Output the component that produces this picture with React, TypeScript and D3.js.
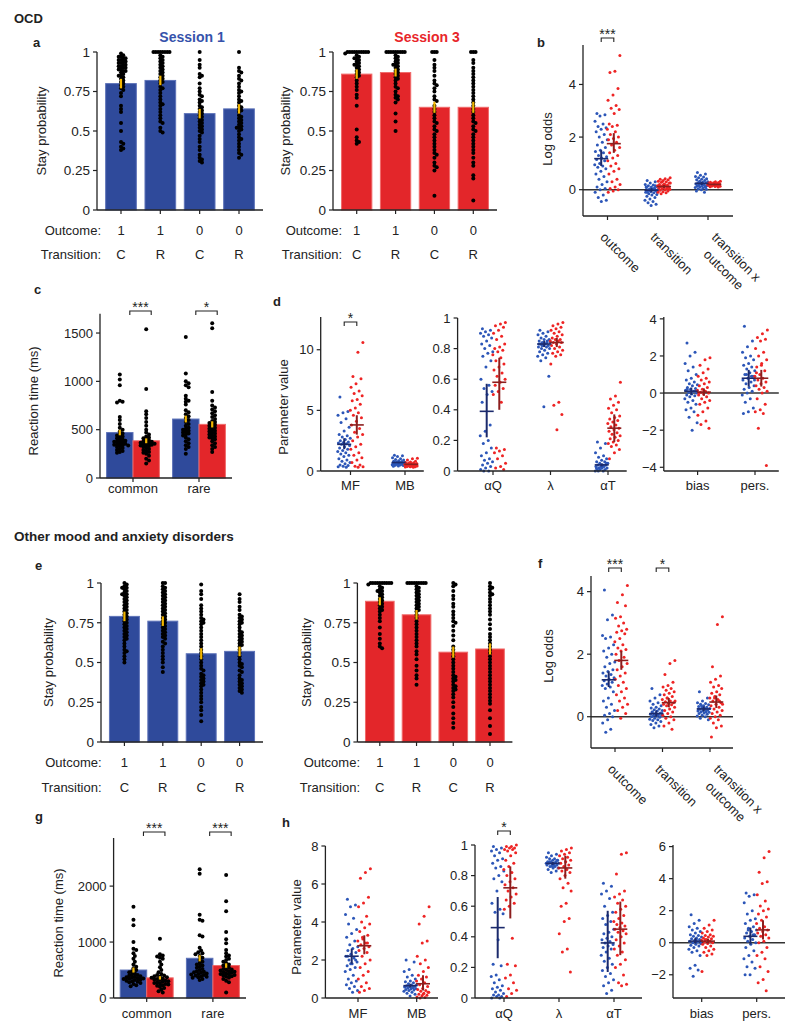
import React from 'react';
import * as d3 from 'd3';

// ---------------- DATA ----------------
const stayConds = ['C1', 'R1', 'C0', 'R0'];
const outcomeLabels = ['1', '1', '0', '0'];
const transitionLabels = ['C', 'R', 'C', 'R'];
const stayTicks = [0, 0.25, 0.5, 0.75, 1];

// OCD session 1 (blue)
const a1Means = [0.80, 0.82, 0.61, 0.64];
const a1Errs = [0.03, 0.03, 0.03, 0.03];
const a1_C1 = [0.99,0.98,0.97,0.97,0.96,0.96,0.95,0.95,0.94,0.94,0.93,0.93,0.92,0.92,0.91,0.91,0.90,0.90,0.89,0.89,0.88,0.88,0.87,0.86,0.85,0.85,0.84,0.83,0.82,0.81,0.80,0.79,0.78,0.77,0.76,0.74,0.72,0.66,0.64,0.62,0.55,0.5,0.43,0.42,0.40,0.39,0.38];
const a1_R1 = [1,1,1,1,1,1,1,1,0.98,0.97,0.96,0.95,0.94,0.93,0.92,0.91,0.9,0.89,0.88,0.87,0.86,0.85,0.84,0.83,0.82,0.81,0.8,0.78,0.77,0.76,0.74,0.72,0.7,0.68,0.67,0.66,0.64,0.62,0.6,0.58,0.56,0.55,0.52,0.5,0.49];
const a1_C0 = [1.0,0.95,0.92,0.9,0.86,0.85,0.84,0.8,0.77,0.75,0.73,0.72,0.7,0.69,0.68,0.66,0.65,0.64,0.63,0.62,0.61,0.6,0.59,0.58,0.57,0.56,0.55,0.54,0.53,0.52,0.51,0.5,0.49,0.47,0.45,0.43,0.4,0.38,0.35,0.33,0.32,0.31,0.3];
const a1_R0 = [1.0,0.9,0.88,0.87,0.85,0.83,0.82,0.8,0.78,0.76,0.75,0.74,0.72,0.7,0.69,0.68,0.66,0.65,0.64,0.63,0.62,0.6,0.59,0.58,0.57,0.56,0.55,0.54,0.53,0.52,0.52,0.51,0.5,0.48,0.46,0.45,0.44,0.42,0.4,0.38,0.36,0.35,0.33];

// OCD session 3 (red)
const a3Means = [0.86, 0.87, 0.65, 0.65];
const a3Errs = [0.03, 0.025, 0.035, 0.035];
const a3_C1 = [1,1,1,1,1,1,1,1,1,1,0.99,0.98,0.97,0.96,0.96,0.95,0.94,0.93,0.92,0.92,0.91,0.9,0.89,0.88,0.87,0.86,0.85,0.84,0.82,0.8,0.78,0.76,0.73,0.71,0.66,0.51,0.46,0.44,0.43,0.42];
const a3_R1 = [1,1,1,1,1,1,1,1,1,0.98,0.97,0.96,0.95,0.94,0.93,0.92,0.92,0.91,0.9,0.89,0.88,0.87,0.86,0.85,0.84,0.83,0.82,0.8,0.78,0.77,0.75,0.73,0.72,0.71,0.7,0.68,0.61,0.56,0.5];
const a3_C0 = [1,1,1,0.95,0.92,0.9,0.88,0.85,0.82,0.8,0.79,0.77,0.75,0.72,0.7,0.69,0.66,0.64,0.62,0.6,0.58,0.56,0.55,0.53,0.51,0.5,0.48,0.46,0.44,0.42,0.4,0.38,0.36,0.35,0.33,0.3,0.28,0.27,0.25,0.09];
const a3_R0 = [1,1,1,0.95,0.93,0.9,0.88,0.86,0.84,0.82,0.8,0.78,0.76,0.74,0.72,0.7,0.68,0.66,0.64,0.62,0.6,0.58,0.56,0.55,0.53,0.51,0.5,0.48,0.46,0.44,0.42,0.4,0.38,0.36,0.33,0.3,0.28,0.22,0.2,0.06];

// Other disorders session 1 (blue)
const e1Means = [0.79, 0.76, 0.555, 0.57];
const e1Errs = [0.03, 0.03, 0.035, 0.03];
const e1_C1 = [1,0.99,0.98,0.97,0.97,0.96,0.95,0.94,0.93,0.93,0.92,0.91,0.9,0.89,0.88,0.87,0.86,0.85,0.84,0.83,0.82,0.81,0.8,0.79,0.78,0.77,0.76,0.75,0.74,0.73,0.72,0.71,0.7,0.69,0.68,0.67,0.66,0.65,0.64,0.62,0.6,0.58,0.57,0.56,0.54,0.52,0.5];
const e1_R1 = [1,1,0.98,0.97,0.96,0.95,0.94,0.93,0.92,0.91,0.9,0.89,0.88,0.87,0.86,0.85,0.84,0.83,0.82,0.81,0.8,0.79,0.78,0.77,0.76,0.75,0.74,0.73,0.72,0.71,0.7,0.69,0.68,0.67,0.66,0.65,0.63,0.62,0.6,0.58,0.56,0.54,0.52,0.5,0.47,0.44];
const e1_C0 = [0.99,0.95,0.93,0.9,0.86,0.84,0.82,0.8,0.78,0.77,0.76,0.75,0.74,0.72,0.7,0.68,0.66,0.64,0.62,0.6,0.58,0.56,0.54,0.52,0.5,0.48,0.46,0.45,0.43,0.42,0.41,0.4,0.39,0.38,0.37,0.36,0.35,0.33,0.31,0.29,0.27,0.25,0.22,0.2,0.17,0.13];
const e1_R0 = [0.93,0.9,0.88,0.85,0.83,0.8,0.79,0.78,0.77,0.76,0.75,0.74,0.72,0.7,0.69,0.68,0.67,0.66,0.65,0.64,0.63,0.62,0.61,0.6,0.58,0.56,0.54,0.52,0.5,0.49,0.48,0.47,0.45,0.44,0.42,0.4,0.39,0.38,0.37,0.36,0.35,0.34,0.33,0.32,0.31];

// Other disorders session 3 (red)
const e3Means = [0.885, 0.80, 0.565, 0.585];
const e3Errs = [0.025, 0.03, 0.035, 0.035];
const e3_C1 = [1,1,1,1,1,1,1,1,1,1,0.99,0.98,0.97,0.96,0.95,0.95,0.94,0.93,0.92,0.91,0.9,0.89,0.88,0.87,0.86,0.85,0.84,0.83,0.82,0.8,0.78,0.76,0.72,0.68,0.65,0.62,0.6,0.59];
const e3_R1 = [1,1,1,1,1,1,1,1,1,0.98,0.97,0.96,0.95,0.94,0.93,0.92,0.91,0.9,0.89,0.88,0.87,0.86,0.85,0.84,0.83,0.82,0.8,0.78,0.76,0.74,0.72,0.7,0.68,0.66,0.64,0.62,0.6,0.57,0.55,0.52,0.48,0.45,0.42,0.4,0.36];
const e3_C0 = [1,0.99,0.98,0.95,0.92,0.9,0.87,0.85,0.82,0.8,0.78,0.76,0.75,0.73,0.7,0.67,0.64,0.6,0.58,0.56,0.54,0.52,0.5,0.48,0.46,0.44,0.42,0.41,0.4,0.39,0.38,0.36,0.35,0.34,0.33,0.32,0.3,0.28,0.25,0.22,0.18,0.15,0.12,0.09];
const e3_R0 = [1,0.98,0.97,0.96,0.94,0.93,0.92,0.9,0.88,0.86,0.84,0.82,0.8,0.77,0.74,0.71,0.68,0.66,0.64,0.62,0.6,0.58,0.56,0.54,0.52,0.5,0.48,0.46,0.44,0.42,0.4,0.38,0.36,0.34,0.32,0.3,0.28,0.26,0.24,0.2,0.15,0.1,0.05];

// Reaction times
const rtCats = ['common', 'rare'];
const rtSessions = ['s1', 's3'];
const cMeans = [[470, 385], [610, 555]];
const cErrs = [[28, 25], [35, 32]];
const c_bc = [1070,1020,960,800,790,780,630,600,560,520,500,480,460,450,440,430,420,410,400,390,385,380,375,370,360,355,350,345,340,335,330,320,310,300,290,280,270,260];
const c_rc = [1540,920,690,660,620,580,540,500,470,450,430,420,410,400,390,380,375,370,365,360,355,350,345,340,335,330,320,310,300,290,280,270,260,250,230,200,180,150];
const c_br = [1460,1080,1000,980,960,940,850,820,800,790,760,700,680,660,640,620,600,580,560,540,520,510,500,490,480,470,460,450,440,420,400,380,360,340,320,300,250];
const c_rr = [1600,1550,890,800,750,730,710,690,670,650,630,610,590,580,570,560,550,540,530,520,510,500,490,480,470,460,450,440,430,420,410,400,380,360,340,320,300,270];
const gMeans = [[500, 360], [710, 580]];
const gErrs = [[45, 30], [55, 40]];
const g_bc = [1630,1400,1300,1000,880,860,800,750,700,650,600,560,530,500,480,460,440,420,410,400,390,380,370,360,355,350,345,340,330,320,310,300,290,280,270,250,230,210];
const g_rc = [1060,780,760,740,720,700,650,600,550,500,460,430,410,400,390,380,370,360,350,340,330,320,310,300,290,280,270,260,250,240,230,220,200,180,150,120,100];
const g_br = [2300,2220,1490,1400,1380,1120,1100,900,850,820,800,780,750,720,680,650,620,600,580,560,540,520,500,480,470,460,450,440,430,420,410,400,390,380,370,360,340,320];
const g_rr = [2200,1730,1550,1180,1050,980,860,800,760,740,700,680,650,620,600,580,560,540,520,510,500,490,480,470,460,450,440,430,420,410,400,390,380,360,340,310,280,100];

// Log odds
const logCats = ['outcome', 'transition', 'transition x\noutcome'];
const b_out_blue = [2.9,2.85,2.8,2.6,2.5,2.4,2.35,2.3,2.2,2.1,2.0,1.9,1.8,1.7,1.6,1.5,1.45,1.4,1.3,1.25,1.2,1.15,1.1,1.0,0.95,0.9,0.85,0.8,0.7,0.6,0.5,0.4,0.3,0.2,0.1,0.05,0,-0.1,-0.2,-0.3,-0.4,-0.45];
const b_out_red = [5.1,4.5,4.45,3.85,3.6,3.4,3.2,3.1,3.05,2.9,2.5,2.45,2.4,2.3,2.2,2.1,2.0,1.95,1.9,1.8,1.7,1.6,1.5,1.4,1.3,1.2,1.1,1.0,0.9,0.8,0.7,0.6,0.4,0.3,0.2,0.1,0.05,0.0,-0.05,-0.1];
const b_tr_blue = [0.35,0.3,0.25,0.2,0.18,0.15,0.12,0.1,0.08,0.05,0.03,0.0,0,-0.02,-0.05,-0.07,-0.1,-0.12,-0.15,-0.18,-0.2,-0.25,-0.3,-0.35,-0.4,-0.45,-0.5,-0.55,-0.6,0.1,0.05,-0.03,-0.08,0.02,-0.1,0.15];
const b_tr_red = [0.45,0.42,0.4,0.38,0.35,0.32,0.3,0.28,0.25,0.22,0.2,0.18,0.16,0.15,0.14,0.12,0.1,0.08,0.06,0.05,0.04,0.02,0.0,-0.02,-0.05,-0.08,-0.1,-0.12,-0.15,0.1,0.2,0.12,0.05,0.3,0.25];
const b_txo_blue = [0.65,0.6,0.55,0.5,0.48,0.45,0.42,0.4,0.38,0.35,0.32,0.3,0.28,0.26,0.25,0.24,0.22,0.2,0.18,0.16,0.15,0.14,0.12,0.1,0.08,0.06,0.04,0.02,0,-0.05,-0.1,0.3,0.25,0.2,0.15,0.1];
const b_txo_red = [0.32,0.3,0.28,0.27,0.26,0.25,0.24,0.23,0.22,0.22,0.21,0.2,0.2,0.19,0.19,0.18,0.18,0.17,0.16,0.15,0.14,0.13,0.12,0.11,0.1,0.2,0.21,0.19,0.22,0.18];
const bBlueStats: [number, number, number][] = [[1.18, 0.9, 1.5], [-0.02, -0.1, 0.06], [0.24, 0.18, 0.3]];
const bRedStats: [number, number, number][] = [[1.75, 1.4, 2.15], [0.12, 0.06, 0.18], [0.2, 0.17, 0.23]];

const f_out_blue = [4.05,3.25,3.1,2.6,2.55,2.5,2.3,2.2,2.1,2.0,1.9,1.75,1.7,1.6,1.5,1.45,1.4,1.35,1.3,1.25,1.2,1.15,1.1,1.05,1.0,0.95,0.9,0.8,0.6,0.5,0.4,0.3,0.2,0.1,0.05,0.0,-0.1,-0.2,-0.4,-0.5];
const f_out_red = [4.2,3.9,3.65,3.55,3.2,3.15,3.0,2.9,2.8,2.75,2.7,2.65,2.5,2.4,2.3,2.2,2.15,2.1,2.0,1.9,1.8,1.7,1.6,1.5,1.4,1.3,1.2,1.1,1.0,0.9,0.8,0.7,0.6,0.5,0.4,0.3,0.2,0.1,-0.05];
const f_tr_blue = [0.9,0.7,0.6,0.5,0.45,0.4,0.35,0.3,0.28,0.25,0.22,0.2,0.18,0.15,0.12,0.1,0.08,0.06,0.05,0.03,0.02,0,-0.02,-0.05,-0.08,-0.1,-0.12,-0.15,-0.2,-0.25,-0.3,-0.35,0.1,0.05,0.15];
const f_tr_red = [1.8,1.7,1.35,1.1,1.0,0.95,0.9,0.85,0.8,0.75,0.7,0.65,0.6,0.55,0.5,0.48,0.45,0.42,0.4,0.38,0.35,0.3,0.25,0.2,0.15,0.1,0.05,0,-0.05,-0.1,-0.2,-0.3,-0.4,0.6,0.5];
const f_txo_blue = [0.8,0.6,0.5,0.45,0.42,0.4,0.38,0.35,0.33,0.3,0.28,0.26,0.25,0.24,0.22,0.2,0.18,0.16,0.15,0.14,0.12,0.1,0.08,0.05,0.02,0,-0.05,-0.1,0.3,0.25,0.2,0.35];
const f_txo_red = [3.2,2.95,1.6,1.3,1.2,1.1,1.0,0.95,0.9,0.8,0.75,0.7,0.65,0.6,0.55,0.5,0.45,0.4,0.35,0.3,0.25,0.2,0.15,0.1,0.05,0,-0.05,-0.1,-0.2,-0.3,-0.35,-0.65,0.5,0.6,0.4];
const fBlueStats: [number, number, number][] = [[1.18, 0.95, 1.45], [0.1, 0.0, 0.2], [0.25, 0.17, 0.33]];
const fRedStats: [number, number, number][] = [[1.8, 1.5, 2.1], [0.45, 0.3, 0.6], [0.47, 0.28, 0.68]];

// Parameters
const p1Cats = ['MF', 'MB'];
const p2Cats = ['αQ', 'λ', 'αT'];
const p3Cats = ['bias', 'pers.'];

const d_MF_blue = [6.1,4.9,4.8,4.6,4.3,4.0,3.6,3.3,3.0,2.9,2.8,2.7,2.6,2.5,2.4,2.35,2.3,2.25,2.2,2.1,2.0,1.9,1.8,1.7,1.6,1.5,1.4,1.3,1.2,1.0,0.9,0.8,0.7,0.6,0.5,0.45,0.4,0.35,0.3];
const d_MF_red = [10.6,9.8,7.8,7.6,7.2,6.9,6.6,6.4,6.2,5.9,5.8,5.5,5.2,5.0,4.8,4.6,4.4,4.1,3.8,3.5,3.2,3.0,2.8,2.5,2.2,2.0,1.8,1.5,1.3,1.1,0.9,0.7,0.5,0.4,0.35,0.3];
const d_MB_blue = [1.3,1.25,1.2,1.1,1.0,0.95,0.9,0.85,0.8,0.78,0.75,0.72,0.7,0.7,0.68,0.66,0.65,0.64,0.62,0.6,0.6,0.58,0.56,0.55,0.52,0.5,0.48,0.45,0.42,0.4];
const d_MB_red = [1.05,1.0,0.9,0.8,0.75,0.7,0.68,0.65,0.62,0.6,0.58,0.56,0.55,0.54,0.52,0.5,0.5,0.48,0.46,0.45,0.44,0.42,0.4,0.38,0.36,0.35,0.33,0.3];
const d1BlueStats: [number, number, number][] = [[2.2, 1.8, 2.7], [0.7, 0.64, 0.76]];
const d1RedStats: [number, number, number][] = [[3.8, 3.0, 4.6], [0.55, 0.5, 0.6]];

const d_aQ_blue = [0.93,0.92,0.91,0.9,0.89,0.88,0.87,0.85,0.83,0.82,0.8,0.78,0.77,0.75,0.72,0.68,0.6,0.56,0.54,0.52,0.5,0.45,0.3,0.26,0.23,0.2,0.18,0.15,0.12,0.1,0.08,0.07,0.06,0.05,0.04,0.03,0.02,0.01,0.0,0.0];
const d_aQ_red = [0.97,0.96,0.95,0.94,0.92,0.9,0.88,0.86,0.83,0.81,0.8,0.79,0.78,0.76,0.74,0.72,0.7,0.68,0.66,0.64,0.62,0.6,0.58,0.56,0.54,0.52,0.5,0.45,0.15,0.14,0.13,0.12,0.1,0.08,0.05,0.03,0.02,0.01];
const d_lam_blue = [0.92,0.91,0.9,0.89,0.88,0.87,0.86,0.86,0.85,0.85,0.84,0.84,0.83,0.83,0.82,0.82,0.81,0.81,0.8,0.8,0.79,0.78,0.77,0.76,0.75,0.74,0.72,0.62,0.42,0.83,0.84,0.82];
const d_lam_red = [0.97,0.96,0.95,0.94,0.93,0.92,0.91,0.9,0.89,0.88,0.87,0.86,0.86,0.85,0.85,0.84,0.84,0.83,0.82,0.81,0.8,0.79,0.78,0.77,0.76,0.75,0.7,0.45,0.43,0.37,0.27];
const d_aT_blue = [0.19,0.18,0.15,0.12,0.1,0.09,0.08,0.07,0.06,0.06,0.05,0.05,0.04,0.04,0.04,0.03,0.03,0.03,0.02,0.02,0.02,0.01,0.01,0.01,0.0,0.0,0.0,0.05,0.03,0.02];
const d_aT_red = [0.58,0.49,0.47,0.45,0.43,0.41,0.4,0.38,0.36,0.35,0.34,0.33,0.32,0.31,0.3,0.29,0.28,0.27,0.26,0.25,0.24,0.23,0.22,0.21,0.2,0.19,0.18,0.17,0.16,0.14,0.12,0.08];
const d2BlueStats: [number, number, number][] = [[0.39, 0.22, 0.57], [0.83, 0.81, 0.85], [0.04, 0.03, 0.05]];
const d2RedStats: [number, number, number][] = [[0.58, 0.40, 0.74], [0.84, 0.81, 0.87], [0.28, 0.19, 0.37]];

const d_bias_blue = [2.7,2.2,2.0,1.6,1.4,1.2,1.0,0.8,0.7,0.6,0.5,0.45,0.4,0.3,0.25,0.2,0.15,0.1,0.05,0,-0.05,-0.1,-0.15,-0.2,-0.3,-0.4,-0.5,-0.6,-0.8,-0.9,-1.0,-1.3,-1.6,-2.0,0.2,0.1];
const d_bias_red = [1.9,1.8,1.5,1.3,1.1,0.9,0.8,0.7,0.6,0.5,0.4,0.3,0.2,0.15,0.1,0.05,0,-0.05,-0.1,-0.2,-0.3,-0.4,-0.5,-0.6,-0.8,-1.0,-1.2,-1.5,-1.7,-1.9,0.1,0.0];
const d_pers_blue = [3.6,2.8,2.5,2.2,2.0,1.9,1.8,1.6,1.5,1.4,1.3,1.2,1.1,1.0,0.9,0.8,0.7,0.6,0.5,0.4,0.3,0.2,0.1,0,-0.1,-0.3,-0.5,-0.8,-1.0,-1.1,0.9,1.0,0.7];
const d_pers_red = [3.4,3.2,3.0,2.9,2.8,2.4,2.2,2.0,1.8,1.6,1.4,1.2,1.0,0.9,0.8,0.7,0.6,0.5,0.4,0.3,0.2,0.1,0,-0.3,-0.6,-0.9,-1.0,-1.1,-1.9,-3.9,1.5,1.1];
const d3BlueStats: [number, number, number][] = [[0.1, -0.1, 0.3], [0.8, 0.35, 1.25]];
const d3RedStats: [number, number, number][] = [[0.05, -0.15, 0.25], [0.8, 0.35, 1.25]];

const h_MF_blue = [5.2,4.9,4.8,4.4,4.2,3.9,3.6,3.4,3.2,3.0,2.8,2.7,2.6,2.5,2.4,2.3,2.2,2.1,2.0,1.9,1.8,1.7,1.6,1.5,1.4,1.2,1.0,0.9,0.8,0.7,0.6,0.5,0.4,0.3,2.2,2.0,1.8];
const h_MF_red = [6.8,6.6,6.3,5.3,5.0,4.8,4.3,4.0,3.9,3.7,3.5,3.3,3.1,3.0,2.9,2.8,2.7,2.6,2.5,2.4,2.2,2.0,1.8,1.6,1.4,1.2,1.0,0.8,0.6,0.5,0.4,0.3,2.9,3.2];
const h_MB_blue = [2.0,1.9,1.5,1.4,1.2,1.1,1.0,0.9,0.85,0.8,0.75,0.7,0.68,0.65,0.62,0.6,0.58,0.55,0.52,0.5,0.48,0.45,0.42,0.4,0.35,0.3,0.25,0.2,0.1,0.6,0.55];
const h_MB_red = [4.8,4.3,3.9,3.0,2.9,2.2,2.0,1.8,1.6,1.4,1.2,1.1,1.0,0.9,0.8,0.7,0.6,0.5,0.45,0.4,0.35,0.3,0.25,0.2,0.15,0.1,0.05,0.02,0.0,0.3,0.2];
const h1BlueStats: [number, number, number][] = [[2.2, 1.8, 2.6], [0.65, 0.55, 0.75]];
const h1RedStats: [number, number, number][] = [[2.75, 2.3, 3.3], [0.75, 0.4, 1.2]];

const h_aQ_blue = [0.99,0.98,0.97,0.96,0.95,0.93,0.91,0.9,0.88,0.86,0.85,0.83,0.8,0.78,0.76,0.7,0.62,0.58,0.56,0.55,0.38,0.22,0.21,0.15,0.14,0.12,0.1,0.08,0.07,0.06,0.05,0.04,0.03,0.02,0.02,0.01,0.01,0.0,0.0];
const h_aQ_red = [1.0,0.99,0.99,0.98,0.98,0.97,0.97,0.96,0.95,0.93,0.9,0.88,0.86,0.84,0.82,0.8,0.78,0.76,0.74,0.72,0.7,0.68,0.66,0.64,0.62,0.6,0.58,0.39,0.22,0.21,0.15,0.13,0.1,0.06,0.05,0.03,0.01];
const h_lam_blue = [0.95,0.94,0.93,0.92,0.91,0.91,0.9,0.9,0.89,0.89,0.89,0.88,0.88,0.88,0.87,0.87,0.87,0.86,0.86,0.85,0.85,0.84,0.83,0.82,0.88,0.87,0.89,0.9,0.86,0.88];
const h_lam_red = [0.98,0.97,0.96,0.95,0.94,0.93,0.92,0.91,0.9,0.89,0.88,0.87,0.86,0.85,0.84,0.83,0.82,0.8,0.78,0.75,0.72,0.7,0.62,0.6,0.52,0.5,0.42,0.32,0.3,0.17];
const h_aT_blue = [0.75,0.73,0.7,0.68,0.65,0.6,0.56,0.54,0.52,0.5,0.48,0.45,0.43,0.42,0.4,0.39,0.38,0.37,0.36,0.35,0.34,0.33,0.32,0.3,0.28,0.26,0.24,0.22,0.2,0.18,0.16,0.14,0.12,0.1,0.08,0.05,0.03];
const h_aT_red = [0.95,0.94,0.81,0.7,0.68,0.66,0.64,0.62,0.6,0.58,0.56,0.54,0.52,0.5,0.49,0.48,0.47,0.46,0.45,0.44,0.43,0.42,0.4,0.38,0.36,0.34,0.32,0.3,0.28,0.25,0.22,0.2,0.15,0.1,0.09,0.08];
const h2BlueStats: [number, number, number][] = [[0.46, 0.26, 0.66], [0.88, 0.87, 0.89], [0.36, 0.17, 0.57]];
const h2RedStats: [number, number, number][] = [[0.72, 0.52, 0.86], [0.85, 0.78, 0.93], [0.45, 0.28, 0.63]];

const h_bias_blue = [1.75,1.4,1.2,1.0,0.9,0.8,0.7,0.6,0.5,0.45,0.4,0.35,0.3,0.25,0.2,0.15,0.1,0.05,0,-0.05,-0.1,-0.15,-0.2,-0.3,-0.4,-0.5,-0.6,-0.8,-1.4,-1.6,-1.7,-2.1,0.1,0.2];
const h_bias_red = [1.4,1.1,0.9,0.8,0.7,0.6,0.5,0.45,0.4,0.35,0.3,0.25,0.2,0.15,0.1,0.05,0,-0.05,-0.1,-0.2,-0.3,-0.4,-0.5,-0.6,-0.7,-0.8,-1.8,0.1,0.2];
const h_pers_blue = [3.1,3.0,2.9,2.5,2.0,1.8,1.5,1.4,1.2,1.0,0.9,0.8,0.7,0.6,0.5,0.4,0.3,0.2,0.1,0,-0.1,-0.3,-0.5,-0.8,-1.0,-1.2,-1.5,-1.6,-2.0,-2.0,0.5,0.8];
const h_pers_red = [5.7,5.3,4.4,3.8,3.7,3.0,2.6,2.3,2.1,2.0,1.8,1.6,1.4,1.2,1.0,0.9,0.8,0.7,0.6,0.5,0.4,0.3,0.1,0,-0.3,-0.6,-0.8,-1.0,-1.5,-1.8,-2.3,-2.5,-3.0];
const h3BlueStats: [number, number, number][] = [[0.1, -0.05, 0.3], [0.4, -0.1, 0.95]];
const h3RedStats: [number, number, number][] = [[0.1, -0.05, 0.25], [0.8, 0.2, 1.4]];

// ---------------- STYLE ----------------
const FONT = '"Liberation Sans", Arial, Helvetica, sans-serif';
const BLUE_BAR = '#2f4a9b';
const BLUE_BAR_EDGE = '#5d72b8';
const RED_BAR = '#e3262a';
const RED_BAR_EDGE = '#f06a6a';
const BLUE_DOT = '#2c56b8';
const RED_DOT = '#ee2424';
const BLUE_X = '#1b2a6c';
const RED_X = '#8c1e1e';
const YELLOW = '#f2b600';
const AX = '#222';

const fmtNum = (v: number) => String(+v.toFixed(2));
const jitter = (i: number) => ((i * 0.6180339887 + 0.17) % 1) - 0.5;

function beeswarm(vals: number[], y: (v: number) => number, minDist: number, step: number) {
  const placed: { x: number; y: number }[] = [];
  const order = vals.map((_, i) => i).sort((a, b) => vals[b] - vals[a]);
  const out: { x: number; y: number }[] = new Array(vals.length);
  for (const i of order) {
    const yy = y(vals[i]);
    let k = 0;
    let dx = 0;
    while (k < 80) {
      dx = k === 0 ? 0 : (k % 2 === 1 ? 1 : -1) * Math.ceil(k / 2) * step;
      const ok = placed.every((p) => (p.x - dx) ** 2 + (p.y - yy) ** 2 >= minDist * minDist);
      if (ok) break;
      k++;
    }
    placed.push({ x: dx, y: yy });
    out[i] = { x: dx, y: yy };
  }
  return out;
}

function textWidth(s: string, font: string) {
  try {
    const c = document.createElement('canvas').getContext('2d');
    if (!c) return s.length * 6.5;
    c.font = font;
    return c.measureText(s).width;
  } catch (e) {
    return s.length * 6.5;
  }
}

function YAxis({ x, scale, ticks, fmt = fmtNum, size = 13 }: { x: number; scale: d3.ScaleLinear<number, number>; ticks: number[]; fmt?: (v: number) => string; size?: number }) {
  const [r0, r1] = scale.range();
  return (
    <g>
      <line x1={x} x2={x} y1={r0} y2={r1} stroke={AX} strokeWidth={1.3} />
      {ticks.map((t) => (
        <g key={t}>
          <line x1={x - 4} x2={x} y1={scale(t)} y2={scale(t)} stroke={AX} strokeWidth={1.2} />
          <text x={x - 7} y={scale(t)} dy="0.36em" textAnchor="end" fontSize={size} fontFamily={FONT} fill="#222">
            {fmt(t).replace('-', '\u2212')}
          </text>
        </g>
      ))}
    </g>
  );
}

function YLabel({ x, y, text }: { x: number; y: number; text: string }) {
  return (
    <text transform={`translate(${x},${y}) rotate(-90)`} textAnchor="middle" fontSize={13} fontFamily={FONT} fill="#222">
      {text}
    </text>
  );
}

function Sig({ x1, x2, y, text }: { x1: number; x2: number; y: number; text: string }) {
  return (
    <g>
      <path d={`M${x1},${y + 4}V${y}H${x2}V${y + 4}`} fill="none" stroke={AX} strokeWidth={1.1} />
      <text x={(x1 + x2) / 2} y={y + 1} textAnchor="middle" fontSize={14} fontFamily={FONT} fill="#222">
        {text}
      </text>
    </g>
  );
}

function StayPanel(p: {
  axisX: number; xEnd: number; yTop: number; yBot: number; means: number[]; errs: number[];
  pts: number[][]; fill: string; stroke: string; ylabelX: number; rowX: number; outY: number; trY: number;
  title?: string; titleColor?: string;
}) {
  const x = d3.scaleBand<string>().domain(stayConds).range([p.axisX, p.xEnd]).padding(0.22);
  const y = d3.scaleLinear().domain([0, 1]).range([p.yBot, p.yTop]);
  const bw = x.bandwidth();
  const cx = (i: number) => (x(stayConds[i]) as number) + bw / 2;
  return (
    <g>
      {p.title && (
        <text x={(p.axisX + p.xEnd) / 2 + 12} y={p.yTop - 10} textAnchor="middle" fontSize={14} fontWeight="bold" fontFamily={FONT} fill={p.titleColor}>
          {p.title}
        </text>
      )}
      {stayConds.map((c, i) => (
        <rect key={c} x={x(c)} y={y(p.means[i])} width={bw} height={y(0) - y(p.means[i])} fill={p.fill} stroke={p.stroke} strokeWidth={1} />
      ))}
      {p.pts.map((vals, i) =>
        beeswarm(vals, y, 2.3, 1.15).map((q, j) => <circle key={`${i}-${j}`} cx={cx(i) + q.x} cy={q.y} r={2} fill="#000" />)
      )}
      {p.means.map((m, i) => (
        <line key={i} x1={cx(i)} x2={cx(i)} y1={y(m - p.errs[i])} y2={y(m + p.errs[i])} stroke={YELLOW} strokeWidth={2.2} />
      ))}
      <YAxis x={p.axisX} scale={y} ticks={stayTicks} size={13.5} />
      <line x1={p.axisX} x2={p.xEnd} y1={y(0)} y2={y(0)} stroke={AX} strokeWidth={1.3} />
      {stayConds.map((c, i) => (
        <line key={c} x1={cx(i)} x2={cx(i)} y1={y(0)} y2={y(0) + 4} stroke={AX} strokeWidth={1.2} />
      ))}
      <YLabel x={p.ylabelX} y={(p.yTop + p.yBot) / 2} text="Stay probability" />
      <text x={p.rowX} y={p.outY} textAnchor="end" fontSize={13} fontFamily={FONT} fill="#222">Outcome:</text>
      <text x={p.rowX} y={p.trY} textAnchor="end" fontSize={13} fontFamily={FONT} fill="#222">Transition:</text>
      {stayConds.map((c, i) => (
        <g key={c}>
          <text x={cx(i)} y={p.outY} textAnchor="middle" fontSize={13} fontFamily={FONT} fill="#222">{outcomeLabels[i]}</text>
          <text x={cx(i)} y={p.trY} textAnchor="middle" fontSize={13} fontFamily={FONT} fill="#222">{transitionLabels[i]}</text>
        </g>
      ))}
    </g>
  );
}

function RTPanel(p: {
  axisX: number; xEnd: number; yDomain: [number, number]; yRange: [number, number]; ticks: number[];
  means: number[][]; errs: number[][]; pts: number[][][]; ylabelX: number; labelDy: number; sigY: number; sigs: string[];
}) {
  const x0 = d3.scaleBand<string>().domain(rtCats).range([p.axisX, p.xEnd]).paddingInner(0.2).paddingOuter(0.1);
  const x1 = d3.scaleBand<string>().domain(rtSessions).range([0, x0.bandwidth()]);
  const y = d3.scaleLinear().domain(p.yDomain).range(p.yRange);
  const fills = [BLUE_BAR, RED_BAR];
  const edges = [BLUE_BAR_EDGE, RED_BAR_EDGE];
  return (
    <g>
      {rtCats.map((c, ci) =>
        rtSessions.map((s, si) => (
          <rect key={c + s} x={(x0(c) as number) + (x1(s) as number)} y={y(p.means[ci][si])} width={x1.bandwidth()} height={y(0) - y(p.means[ci][si])} fill={fills[si]} stroke={edges[si]} strokeWidth={1} />
        ))
      )}
      {rtCats.map((c, ci) =>
        rtSessions.map((s, si) => {
          const cx = (x0(c) as number) + (x1(s) as number) + x1.bandwidth() / 2;
          return beeswarm(p.pts[ci][si], y, 2.8, 1.4).map((q, j) => <circle key={`${c}${s}${j}`} cx={cx + q.x} cy={q.y} r={2} fill="#000" />);
        })
      )}
      {rtCats.map((c, ci) =>
        rtSessions.map((s, si) => {
          const cx = (x0(c) as number) + (x1(s) as number) + x1.bandwidth() / 2;
          const m = p.means[ci][si];
          const e = p.errs[ci][si];
          return <line key={c + s + 'e'} x1={cx} x2={cx} y1={y(m - e)} y2={y(m + e)} stroke={YELLOW} strokeWidth={2.2} />;
        })
      )}
      <YAxis x={p.axisX} scale={y} ticks={p.ticks} />
      <line x1={p.axisX} x2={p.xEnd} y1={y(0)} y2={y(0)} stroke={AX} strokeWidth={1.3} />
      {rtCats.map((c, ci) => {
        const cx = (x0(c) as number) + x0.bandwidth() / 2;
        const b1 = (x0(c) as number) + x1.bandwidth() / 2;
        const b2 = b1 + x1.bandwidth();
        return (
          <g key={c}>
            <line x1={cx} x2={cx} y1={y(0)} y2={y(0) + 4} stroke={AX} strokeWidth={1.2} />
            <text x={cx} y={y(0) + p.labelDy} textAnchor="middle" fontSize={13} fontFamily={FONT} fill="#222">{c}</text>
            <Sig x1={b1 + 10} x2={b2 + 5} y={p.sigY} text={p.sigs[ci]} />
          </g>
        );
      })}
      <YLabel x={p.ylabelX} y={(p.yRange[0] + p.yRange[1]) / 2 + 5} text="Reaction time (ms)" />
    </g>
  );
}

function ScatterPanel(p: {
  axisX: number; xEnd: number; tickRange: [number, number]; cats: string[];
  yDomain: [number, number]; yRange: [number, number]; ticks: number[];
  blue: number[][]; red: number[][]; blueStats: [number, number, number][]; redStats: [number, number, number][];
  zero?: boolean; rotated?: boolean; labelDy?: number; sigs?: { ci: number; y: number; text: string }[];
}) {
  const x = d3.scalePoint<string>().domain(p.cats).range(p.tickRange);
  const y = d3.scaleLinear().domain(p.yDomain).range(p.yRange);
  const off = 6.3;
  const jw = 6.5;
  const base = p.yRange[0];
  const font13 = `13px ${FONT}`;
  return (
    <g>
      {p.zero && <line x1={p.axisX} x2={p.xEnd} y1={y(0)} y2={y(0)} stroke="#333" strokeWidth={1.4} />}
      {p.cats.map((c, ci) => {
        const cx = x(c) as number;
        return (
          <g key={c}>
            {p.blue[ci].map((v, i) => (
              <circle key={'b' + i} cx={cx - off + jitter(i) * 2 * jw} cy={y(v)} r={1.5} fill={BLUE_DOT} />
            ))}
            {p.red[ci].map((v, i) => (
              <circle key={'r' + i} cx={cx + off + jitter(i + 11) * 2 * jw} cy={y(v)} r={1.5} fill={RED_DOT} />
            ))}
          </g>
        );
      })}
      {p.cats.map((c, ci) => {
        const cx = x(c) as number;
        const bs = p.blueStats[ci];
        const rs = p.redStats[ci];
        return (
          <g key={c + 'x'}>
            <line x1={cx - off} x2={cx - off} y1={y(bs[1])} y2={y(bs[2])} stroke={BLUE_X} strokeWidth={2} />
            <line x1={cx - off - 7} x2={cx - off + 7} y1={y(bs[0])} y2={y(bs[0])} stroke={BLUE_X} strokeWidth={1.6} />
            <line x1={cx + off} x2={cx + off} y1={y(rs[1])} y2={y(rs[2])} stroke={RED_X} strokeWidth={2} />
            <line x1={cx + off - 7} x2={cx + off + 7} y1={y(rs[0])} y2={y(rs[0])} stroke={RED_X} strokeWidth={1.6} />
          </g>
        );
      })}
      <YAxis x={p.axisX} scale={y} ticks={p.ticks} />
      <line x1={p.axisX} x2={p.xEnd} y1={base} y2={base} stroke={AX} strokeWidth={1.3} />
      {p.cats.map((c) => {
        const cx = x(c) as number;
        const lines = c.split('\n');
        let label;
        if (p.rotated) {
          if (lines.length === 1) {
            label = (
              <text transform={`translate(${cx - 8},${base + 22}) rotate(45)`} fontSize={13} fontFamily={FONT} fill="#222">{c}</text>
            );
          } else {
            const w = lines.map((l) => textWidth(l, font13));
            const wm = Math.max(...w);
            label = (
              <g transform={`translate(${cx + 3},${base + 22}) rotate(45)`}>
                {lines.map((l, j) => (
                  <text key={j} x={wm / 2} y={j * 18} textAnchor="middle" fontSize={13} fontFamily={FONT} fill="#222">{l}</text>
                ))}
              </g>
            );
          }
        } else {
          label = (
            <text x={cx} y={base + (p.labelDy ?? 19)} textAnchor="middle" fontSize={13} fontFamily={FONT} fill="#222">{c}</text>
          );
        }
        return (
          <g key={c + 't'}>
            <line x1={cx} x2={cx} y1={base} y2={base + 4} stroke={AX} strokeWidth={1.2} />
            {label}
          </g>
        );
      })}
      {(p.sigs || []).map((s) => {
        const cx = x(p.cats[s.ci]) as number;
        return <Sig key={s.ci} x1={cx - off} x2={cx + off} y={s.y} text={s.text} />;
      })}
    </g>
  );
}

function Letter({ x, y, t }: { x: number; y: number; t: string }) {
  return (
    <text x={x} y={y} fontSize={13} fontWeight="bold" fontFamily={FONT} fill="#222">{t}</text>
  );
}

export default function App() {
  return (
    <div style={{ position: 'absolute', left: 0, top: 0, width: 800, height: 1036, background: '#fff' }}>
      <svg width={800} height={1036} viewBox="0 0 800 1036" style={{ display: 'block' }}>
        <rect x={0} y={0} width={800} height={1036} fill="#fff" />
        <text x={14} y={23} fontSize={13} fontWeight="bold" fontFamily={FONT} fill="#222">OCD</text>
        <Letter x={33} y={47} t="a" />
        <Letter x={537} y={47} t="b" />
        <Letter x={34} y={294} t="c" />
        <Letter x={273} y={306} t="d" />
        <text x={14} y={541} fontSize={13.5} fontWeight="bold" fontFamily={FONT} fill="#222">Other mood and anxiety disorders</text>
        <Letter x={35} y={570} t="e" />
        <Letter x={538} y={568} t="f" />
        <Letter x={35} y={821} t="g" />
        <Letter x={282} y={827} t="h" />

        {/* a */}
        <StayPanel axisX={97} xEnd={263} yTop={52} yBot={210} means={a1Means} errs={a1Errs}
          pts={[a1_C1, a1_R1, a1_C0, a1_R0]} fill={BLUE_BAR} stroke={BLUE_BAR_EDGE}
          ylabelX={46} rowX={101} outY={235} trY={259} title="Session 1" titleColor="#3552ab" />
        <StayPanel axisX={333} xEnd={497} yTop={52} yBot={210} means={a3Means} errs={a3Errs}
          pts={[a3_C1, a3_R1, a3_C0, a3_R0]} fill={RED_BAR} stroke={RED_BAR_EDGE}
          ylabelX={290} rowX={342} outY={235} trY={259} title="Session 3" titleColor="#e8262a" />

        {/* b */}
        <ScatterPanel axisX={583} xEnd={733} tickRange={[607.5, 708]} cats={logCats}
          yDomain={[-1, 5.5]} yRange={[216, 45]} ticks={[0, 2, 4]}
          blue={[b_out_blue, b_tr_blue, b_txo_blue]} red={[b_out_red, b_tr_red, b_txo_red]}
          blueStats={bBlueStats} redStats={bRedStats} zero rotated
          sigs={[{ ci: 0, y: 38, text: '***' }]} />
        <YLabel x={552} y={139} text="Log odds" />

        {/* c */}
        <RTPanel axisX={100} xEnd={232} yDomain={[0, 1700]} yRange={[478, 313.7]} ticks={[0, 500, 1000, 1500]}
          means={cMeans} errs={cErrs} pts={[[c_bc, c_rc], [c_br, c_rr]]} ylabelX={38} labelDy={15}
          sigY={311} sigs={['***', '*']} />

        {/* d */}
        <ScatterPanel axisX={320.7} xEnd={423.8} tickRange={[350.5, 405]} cats={p1Cats}
          yDomain={[0, 12.7]} yRange={[471, 317]} ticks={[0, 5, 10]}
          blue={[d_MF_blue, d_MB_blue]} red={[d_MF_red, d_MB_red]}
          blueStats={d1BlueStats} redStats={d1RedStats}
          sigs={[{ ci: 0, y: 322, text: '*' }]} />
        <YLabel x={288} y={407} text="Parameter value" />
        <ScatterPanel axisX={457.6} xEnd={626.7} tickRange={[493, 608]} cats={p2Cats}
          yDomain={[0, 1]} yRange={[471, 318]} ticks={[0, 0.2, 0.4, 0.6, 0.8, 1]}
          blue={[d_aQ_blue, d_lam_blue, d_aT_blue]} red={[d_aQ_red, d_lam_red, d_aT_red]}
          blueStats={d2BlueStats} redStats={d2RedStats} />
        <ScatterPanel axisX={663.8} xEnd={778.8} tickRange={[697.6, 755]} cats={p3Cats}
          yDomain={[-4.2, 4.1]} yRange={[471, 317]} ticks={[-4, -2, 0, 2, 4]}
          blue={[d_bias_blue, d_pers_blue]} red={[d_bias_red, d_pers_red]}
          blueStats={d3BlueStats} redStats={d3RedStats} zero />

        {/* e */}
        <StayPanel axisX={101} xEnd={263} yTop={583} yBot={742} means={e1Means} errs={e1Errs}
          pts={[e1_C1, e1_R1, e1_C0, e1_R0]} fill={BLUE_BAR} stroke={BLUE_BAR_EDGE}
          ylabelX={53} rowX={101.6} outY={767} trY={792} />
        <StayPanel axisX={357.4} xEnd={512.4} yTop={583} yBot={742} means={e3Means} errs={e3Errs}
          pts={[e3_C1, e3_R1, e3_C0, e3_R0]} fill={RED_BAR} stroke={RED_BAR_EDGE}
          ylabelX={311} rowX={360} outY={767} trY={792} />

        {/* f */}
        <ScatterPanel axisX={591} xEnd={733} tickRange={[615, 710]} cats={logCats}
          yDomain={[-1, 4.5]} yRange={[748, 576]} ticks={[0, 2, 4]}
          blue={[f_out_blue, f_tr_blue, f_txo_blue]} red={[f_out_red, f_tr_red, f_txo_red]}
          blueStats={fBlueStats} redStats={fRedStats} zero rotated
          sigs={[{ ci: 0, y: 568, text: '***' }, { ci: 1, y: 568, text: '*' }]} />
        <YLabel x={553} y={656} text="Log odds" />

        {/* g */}
        <RTPanel axisX={113.6} xEnd={246} yDomain={[0, 2860]} yRange={[998, 838]} ticks={[0, 1000, 2000]}
          means={gMeans} errs={gErrs} pts={[[g_bc, g_rc], [g_br, g_rr]]} ylabelX={63} labelDy={20}
          sigY={832} sigs={['***', '***']} />

        {/* h */}
        <ScatterPanel axisX={325.4} xEnd={438} tickRange={[358, 416.7]} cats={p1Cats}
          yDomain={[0, 8]} yRange={[998, 846]} ticks={[0, 2, 4, 6, 8]} labelDy={20}
          blue={[h_MF_blue, h_MB_blue]} red={[h_MF_red, h_MB_red]}
          blueStats={h1BlueStats} redStats={h1RedStats} />
        <YLabel x={301} y={927} text="Parameter value" />
        <ScatterPanel axisX={475} xEnd={642} tickRange={[504, 614]} cats={p2Cats}
          yDomain={[0, 1]} yRange={[998, 845]} ticks={[0, 0.2, 0.4, 0.6, 0.8, 1]} labelDy={20}
          blue={[h_aQ_blue, h_lam_blue, h_aT_blue]} red={[h_aQ_red, h_lam_red, h_aT_red]}
          blueStats={h2BlueStats} redStats={h2RedStats}
          sigs={[{ ci: 0, y: 831, text: '*' }]} />
        <ScatterPanel axisX={673} xEnd={785} tickRange={[701.7, 756.7]} cats={p3Cats}
          yDomain={[-3.45, 6.1]} yRange={[998, 845]} ticks={[-2, 0, 2, 4, 6]} labelDy={20}
          blue={[h_bias_blue, h_pers_blue]} red={[h_bias_red, h_pers_red]}
          blueStats={h3BlueStats} redStats={h3RedStats} zero />
      </svg>
    </div>
  );
}
